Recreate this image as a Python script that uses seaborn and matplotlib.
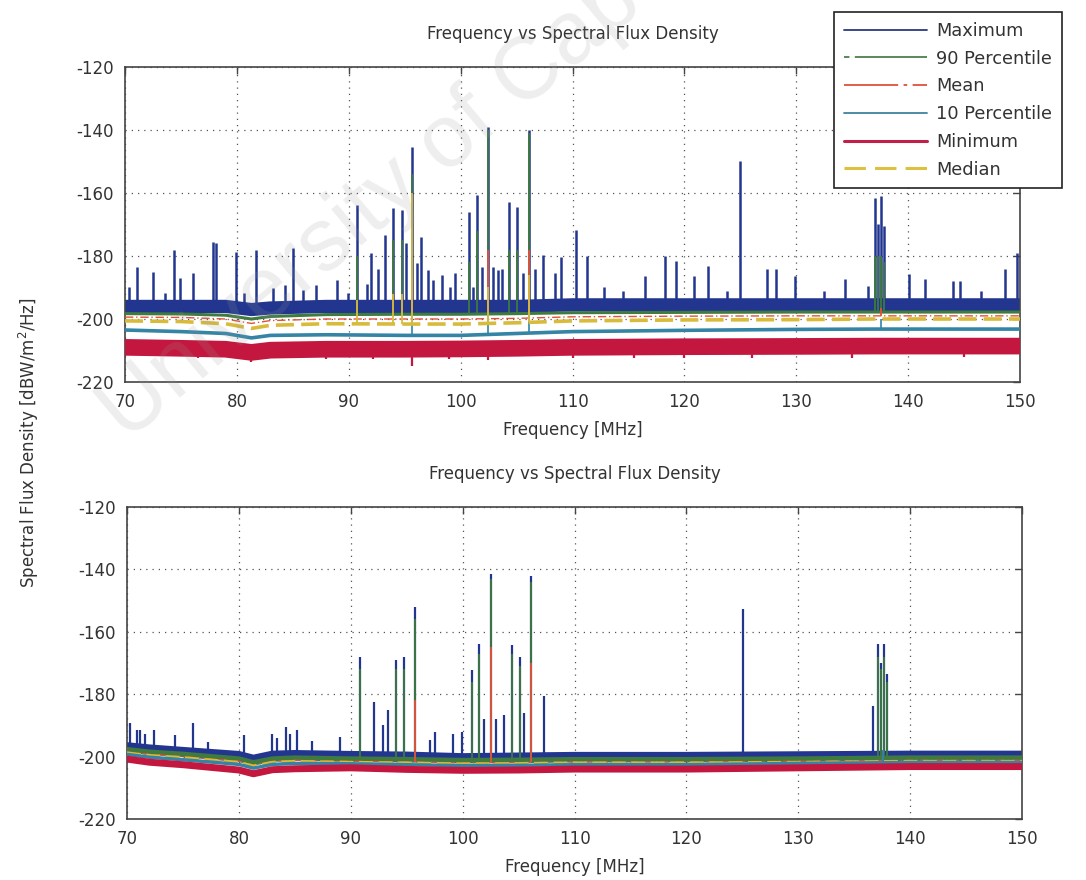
import numpy as np
import matplotlib
matplotlib.use("Agg")
import matplotlib.pyplot as plt
from matplotlib.lines import Line2D
import seaborn as sns

# ------------------------------------------------------------------
# Data: spectral flux density statistics, dBW/m^2/Hz vs frequency (MHz)
# ------------------------------------------------------------------
series_names = ["Maximum", "90 Percentile", "Mean", "10 Percentile", "Minimum", "Median"]

# Upper panel: floor level of each statistic
top_freq = [70, 75, 79, 81.3, 83, 88, 95, 100, 105, 110, 120, 130, 137, 140, 150]
top_max = [-196, -196, -196, -197, -196.5, -196, -196, -196, -196, -195.5, -195.5, -195.5, -195.5, -195.5, -195.5]
top_p90 = [-198.3, -198.4, -198.8, -200, -199.2, -198.6, -198.5, -198.5, -198.3, -198, -197.9, -197.8, -197.8, -197.8, -197.8]
top_mean = [-199.4, -199.5, -200, -201.4, -200.5, -200, -200, -200, -199.8, -199.3, -199.1, -199, -199, -199, -199]
top_median = [-200.6, -200.8, -201.5, -203, -202, -201.5, -201.6, -201.6, -201.2, -200.6, -200.3, -200.2, -200, -200, -200]
top_p10 = [-203.5, -204, -204.6, -206, -205.2, -205, -205.2, -205.2, -204.6, -204, -203.6, -203.3, -203.2, -203.2, -203.2]
top_min = [-209, -209.3, -209.6, -210.6, -209.9, -209.6, -209.6, -209.5, -209.3, -209, -208.8, -208.7, -208.6, -208.6, -208.6]

# Upper panel: narrow-band carriers (frequency, peak level)
top_max_spk_f = [70.4, 71.1, 72.5, 73.6, 74.4, 74.9, 76.05, 77.9, 78.1, 79.95, 80.6, 81.75,
                 83.25, 84.3, 85.0, 85.9, 87.1, 88.97, 89.96, 90.77, 91.6, 91.95, 92.6, 93.23,
                 93.98, 94.73, 95.1, 95.68, 96.12, 96.5, 97.1, 97.5, 98.3, 99.04, 99.5, 100.77,
                 101.1, 101.48, 101.93, 102.47, 102.9, 103.36, 103.7, 104.35, 105.06, 105.6,
                 106.1, 106.64, 107.33, 108.4, 108.96, 110.28, 111.3, 112.8, 114.5, 116.5,
                 118.3, 119.25, 120.9, 122.1, 123.8, 125.0, 127.4, 128.2, 129.9, 132.5, 134.4,
                 136.4, 137.0, 137.3, 137.6, 137.85, 140.1, 141.5, 144.0, 144.6, 146.5, 148.7,
                 149.75]
top_max_spk_v = [-189.7, -183.4, -185, -191.8, -178, -187, -185.5, -175.5, -176, -178.6, -191.8, -178,
                 -190.3, -189.2, -177.6, -190.8, -189.2, -187.6, -191.8, -163.7, -189, -179, -184, -173.3,
                 -164.9, -165.4, -175.9, -145.5, -182.3, -173.9, -184.5, -187.6, -186, -189.7, -185.5, -165.9,
                 -189.7, -160.6, -183.4, -139, -183.4, -184.5, -184, -162.8, -164.3, -185.5,
                 -140, -184, -179.7, -185.5, -180.2, -171.7, -180, -190, -191, -186.3,
                 -180, -181.6, -186.3, -183.2, -191, -150, -184.2, -184.2, -186.3, -191, -187.4,
                 -189.5, -161.6, -170, -161, -170.5, -185.8, -187.4, -188, -188, -191, -184.2,
                 -179]
top_p90_spk_f = [90.77, 93.98, 94.73, 95.68, 100.77, 101.48, 102.47, 104.35, 105.06, 106.1, 137.0, 137.3, 137.6, 137.85]
top_p90_spk_v = [-180, -175, -175, -154, -182, -172, -140, -178, -178, -141, -180, -180, -180, -182]
top_mean_spk_f = [95.68, 102.47, 106.1, 137.6]
top_mean_spk_v = [-186, -178, -178, -196.5]
top_median_spk_f = [90.77, 93.98, 94.73, 95.68, 102.47, 106.1]
top_median_spk_v = [-194, -192, -192, -160, -190, -186]
top_p10_spk_f = [95.68, 102.47, 106.1, 137.6]
top_p10_spk_v = [-198, -198, -198, -200]
top_min_dip_f = [76.5, 81.3, 88.0, 92.2, 95.68, 99.0, 102.47, 110.0, 115.5, 120.0, 126.0, 135.0, 145.0]
top_min_dip_v = [-212.5, -213.5, -212.8, -212.8, -215, -212.6, -213, -212.5, -212.4, -212.5, -212.5, -212.3, -212]

# Lower panel: floor level of each statistic
bot_freq = [70, 72, 75, 80, 81.3, 83, 85, 90, 95, 100, 105, 110, 120, 130, 140, 150]
bot_max = [-196.5, -197.2, -198, -199.3, -200.5, -199.2, -199, -199.3, -199.5, -200, -199.8, -199.6, -199.6, -199.4, -199.2, -199.2]
bot_p90 = [-197.8, -198.6, -199.3, -200.8, -202, -200.8, -200.5, -200.8, -201, -201.3, -201.2, -201, -201, -200.8, -200.5, -200.5]
bot_mean = [-198.5, -199.3, -200, -201.5, -202.7, -201.5, -201.2, -201.5, -201.7, -202, -201.9, -201.7, -201.7, -201.5, -201.2, -201.2]
bot_median = [-198.8, -199.6, -200.3, -201.8, -203, -201.8, -201.5, -201.8, -202, -202.3, -202.2, -202, -202, -201.8, -201.5, -201.5]
bot_p10 = [-199.3, -200.2, -201, -202.5, -203.7, -202.5, -202.2, -202.3, -202.6, -202.9, -202.8, -202.6, -202.6, -202.2, -201.9, -201.9]
bot_min = [-200.8, -201.8, -202.6, -204.3, -205.5, -204.2, -203.9, -203.6, -204.1, -204.4, -204.3, -204, -204, -203.6, -203.2, -203.2]

# Lower panel: narrow-band carriers (frequency, peak level)
bot_max_spk_f = [70.27, 70.9, 71.2, 71.6, 72.4, 74.3, 75.9, 77.2, 80.46, 83.0, 83.4, 84.2, 84.6,
                 85.2, 86.5, 89.03, 90.8, 92.05, 92.85, 93.35, 94.0, 94.72, 95.7, 97.1, 97.5,
                 99.1, 99.9, 100.8, 101.5, 101.9, 102.5, 103.0, 103.7, 104.4, 105.1, 105.5,
                 106.1, 107.3, 125.1, 136.7, 137.1, 137.4, 137.7, 137.9]
bot_max_spk_v = [-189.3, -191.4, -191.5, -192.6, -191.5, -193, -189.3, -195.2, -193, -192.6, -194, -190.5, -192.6,
                 -191.5, -195, -193.6, -168, -182.6, -190, -185, -169.1, -168, -152.1, -194.7, -192,
                 -192.6, -192, -172.3, -163.8, -188, -141.5, -188, -186.6, -164.3, -168, -186,
                 -142, -180.5, -152.8, -183.7, -164, -170, -164, -173.6]
bot_p90_spk_f = [90.8, 94.0, 94.72, 95.7, 100.8, 101.5, 102.5, 104.4, 105.1, 106.1, 137.1, 137.4, 137.7, 137.9]
bot_p90_spk_v = [-172, -172, -172, -156, -176, -167, -143, -167, -171, -144, -168, -172, -168, -176]
bot_mean_spk_f = [95.7, 102.5, 106.1]
bot_mean_spk_v = [-182, -165, -170]
bot_p10_spk_f = [137.6]
bot_p10_spk_v = [-198]
bot_min_dip_f = [81.3]
bot_min_dip_v = [-206.5]

x_ticks = [70, 80, 90, 100, 110, 120, 130, 140, 150]
y_ticks = [-220, -200, -180, -160, -140, -120]

# ------------------------------------------------------------------
# Style
# ------------------------------------------------------------------
sns.set_theme(style="white")
plt.rcParams["font.family"] = ["DejaVu Sans"]
plt.rcParams["axes.unicode_minus"] = False
TXT = "#333333"

colors = {
    "Maximum": "#22368f",
    "90 Percentile": "#3f7a3f",
    "Mean": "#e0523a",
    "10 Percentile": "#3484a6",
    "Minimum": "#c3173f",
    "Median": "#d9bb3c",
}

fig = plt.figure(figsize=(10.86, 8.8), dpi=100)
ax_top = fig.add_axes([125 / 1086, 1 - 382 / 880, 895 / 1086, 315 / 880])
ax_bot = fig.add_axes([127 / 1086, 1 - 819 / 880, 895 / 1086, 312 / 880])


def draw_level(ax, freq, vals, name, lw, z, ls="-"):
    sns.lineplot(x=freq, y=vals, ax=ax, color=colors[name], lw=lw, linestyle=ls,
                 zorder=z, legend=False)


def draw_spikes(ax, freq, vals, spk_f, spk_v, name, lw, z):
    base = np.interp(spk_f, freq, vals)
    ax.vlines(spk_f, base, spk_v, color=colors[name], lw=lw, zorder=z)


# Upper panel
draw_level(ax_top, top_freq, top_max, "Maximum", 9.5, 2)
draw_spikes(ax_top, top_freq, top_max, top_max_spk_f, top_max_spk_v, "Maximum", 1.8, 2.1)
draw_level(ax_top, top_freq, top_p90, "90 Percentile", 2.2, 3)
draw_spikes(ax_top, top_freq, top_p90, top_p90_spk_f, top_p90_spk_v, "90 Percentile", 1.3, 3.1)
draw_level(ax_top, top_freq, top_mean, "Mean", 1.0, 3.5, ls=(0, (6, 2, 1, 2)))
draw_spikes(ax_top, top_freq, top_mean, top_mean_spk_f, top_mean_spk_v, "Mean", 1.3, 3.6)
draw_level(ax_top, top_freq, top_p10, "10 Percentile", 2.6, 4)
draw_spikes(ax_top, top_freq, top_p10, top_p10_spk_f, top_p10_spk_v, "10 Percentile", 1.2, 4.1)
draw_level(ax_top, top_freq, top_min, "Minimum", 12, 5)
draw_spikes(ax_top, top_freq, top_min, top_min_dip_f, top_min_dip_v, "Minimum", 1.6, 5.1)
draw_level(ax_top, top_freq, top_median, "Median", 2.6, 6, ls=(0, (5, 2)))
draw_spikes(ax_top, top_freq, top_median, top_median_spk_f, top_median_spk_v, "Median", 1.3, 6.1)

# Lower panel
draw_level(ax_bot, bot_freq, bot_max, "Maximum", 5, 2)
draw_spikes(ax_bot, bot_freq, bot_max, bot_max_spk_f, bot_max_spk_v, "Maximum", 1.6, 2.1)
draw_level(ax_bot, bot_freq, bot_p90, "90 Percentile", 4, 3)
draw_spikes(ax_bot, bot_freq, bot_p90, bot_p90_spk_f, bot_p90_spk_v, "90 Percentile", 1.3, 3.1)
draw_level(ax_bot, bot_freq, bot_mean, "Mean", 1.0, 3.5, ls=(0, (6, 2, 1, 2)))
draw_spikes(ax_bot, bot_freq, bot_mean, bot_mean_spk_f, bot_mean_spk_v, "Mean", 1.3, 3.6)
draw_level(ax_bot, bot_freq, bot_median, "Median", 2, 3.8, ls=(0, (5, 2)))
draw_level(ax_bot, bot_freq, bot_p10, "10 Percentile", 2.5, 4)
draw_spikes(ax_bot, bot_freq, bot_p10, bot_p10_spk_f, bot_p10_spk_v, "10 Percentile", 1.3, 4.1)
draw_level(ax_bot, bot_freq, bot_min, "Minimum", 5, 5)
draw_spikes(ax_bot, bot_freq, bot_min, bot_min_dip_f, bot_min_dip_v, "Minimum", 1.6, 5.1)

for ax in (ax_top, ax_bot):
    ax.set_xlim(70, 150)
    ax.set_ylim(-220, -120)
    ax.set_xticks(x_ticks)
    ax.set_yticks(y_ticks)
    ax.set_axisbelow(True)
    ax.grid(True, linestyle=(0, (1, 4)), color="#555555", lw=0.9)
    ax.tick_params(direction="in", top=True, right=True, length=5, width=1,
                   labelsize=12, labelcolor=TXT, color="#444444", pad=8)
    for sp in ax.spines.values():
        sp.set_color("#444444")
        sp.set_linewidth(1.2)
    ax.set_xlabel("Frequency [MHz]", fontsize=12, color=TXT, labelpad=7)
    ax.set_ylabel("")

ax_top.set_title("Frequency vs Spectral Flux Density", fontsize=12, color=TXT, pad=20)
ax_bot.set_title("Frequency vs Spectral Flux Density", fontsize=12, color=TXT, pad=20)

fig.text(29 / 1086, 1 - 443 / 880, r"Spectral Flux Density [dBW/m$^2$/Hz]",
         rotation=90, ha="center", va="center", fontsize=12, color=TXT)

# Legend shared by both panels
handles = [
    Line2D([], [], color="#2b3a7e", lw=1.3, ls="-"),
    Line2D([], [], color="#4d7f4d", lw=1.3, ls=(0, (3, 3, 40, 0))),
    Line2D([], [], color="#e0523a", lw=1.3, ls=(0, (30, 3, 2, 3))),
    Line2D([], [], color="#3f82a0", lw=1.3, ls="-"),
    Line2D([], [], color="#c02048", lw=2.2, ls="-"),
    Line2D([], [], color="#dcc040", lw=2.2, ls=(0, (7, 3))),
]
leg = fig.legend(handles, series_names, loc="upper left",
                 bbox_to_anchor=(834 / 1086, 1 - 12 / 880), bbox_transform=fig.transFigure,
                 frameon=True, fancybox=False, edgecolor="#222222", framealpha=1,
                 fontsize=12.8, handlelength=4.7, handletextpad=0.5, labelspacing=0.55,
                 borderpad=0.55, borderaxespad=0)
leg.get_frame().set_linewidth(1.2)
for t in leg.get_texts():
    t.set_color(TXT)

# Faint diagonal watermark
fig.text(0.103, 0.517, "University of Cape Town", rotation=40, rotation_mode="anchor",
         ha="left", va="center", fontsize=64, family=["Liberation Sans", "DejaVu Sans"],
         color="#9a9a9a", alpha=0.17, zorder=10)

fig.savefig("out.png", dpi=100)
